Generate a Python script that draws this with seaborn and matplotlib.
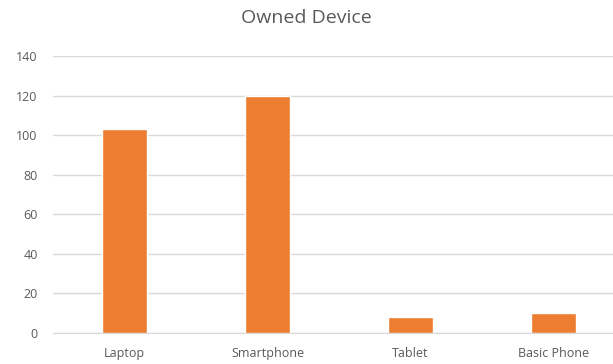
import matplotlib
matplotlib.use("Agg")
import matplotlib.pyplot as plt
import seaborn as sns
import pandas as pd

devices = ["Laptop", "Smartphone", "Tablet", "Basic Phone"]
counts = [103, 120, 8, 10]
y_ticks = [0, 20, 40, 60, 80, 100, 120, 140]

df = pd.DataFrame({"device": devices, "count": counts})

sns.set_style("white")
plt.rcParams["font.family"] = ["Open Sans", "DejaVu Sans"]

fig = plt.figure(figsize=(6.13, 3.64), dpi=100)
# plot area runs past the right edge, as in the reference crop
ax = fig.add_axes([53 / 613, (364 - 333) / 364, 572 / 613, (333 - 56) / 364])

sns.barplot(data=df, x="device", y="count", color="#ED7D31", width=0.31,
            saturation=1, ax=ax)

ax.set_ylim(0, 140)
ax.set_xlim(-0.5, 3.5)
ax.set_yticks(y_ticks)
ax.yaxis.grid(True, color="#D9D9D9", linewidth=1)
ax.set_axisbelow(True)
for s in ["top", "right", "left"]:
    ax.spines[s].set_visible(False)
ax.spines["bottom"].set_color("#D9D9D9")
ax.tick_params(axis="both", length=0, labelsize=9, colors="#595959")
ax.tick_params(axis="y", pad=11)
ax.tick_params(axis="x", pad=10)
ax.set_xlabel("")
ax.set_ylabel("")

fig.text(0.5, 1 - 18 / 364, "Owned Device", ha="center", va="center",
         fontsize=14, color="#595959")

fig.savefig("out.png", dpi=100)
